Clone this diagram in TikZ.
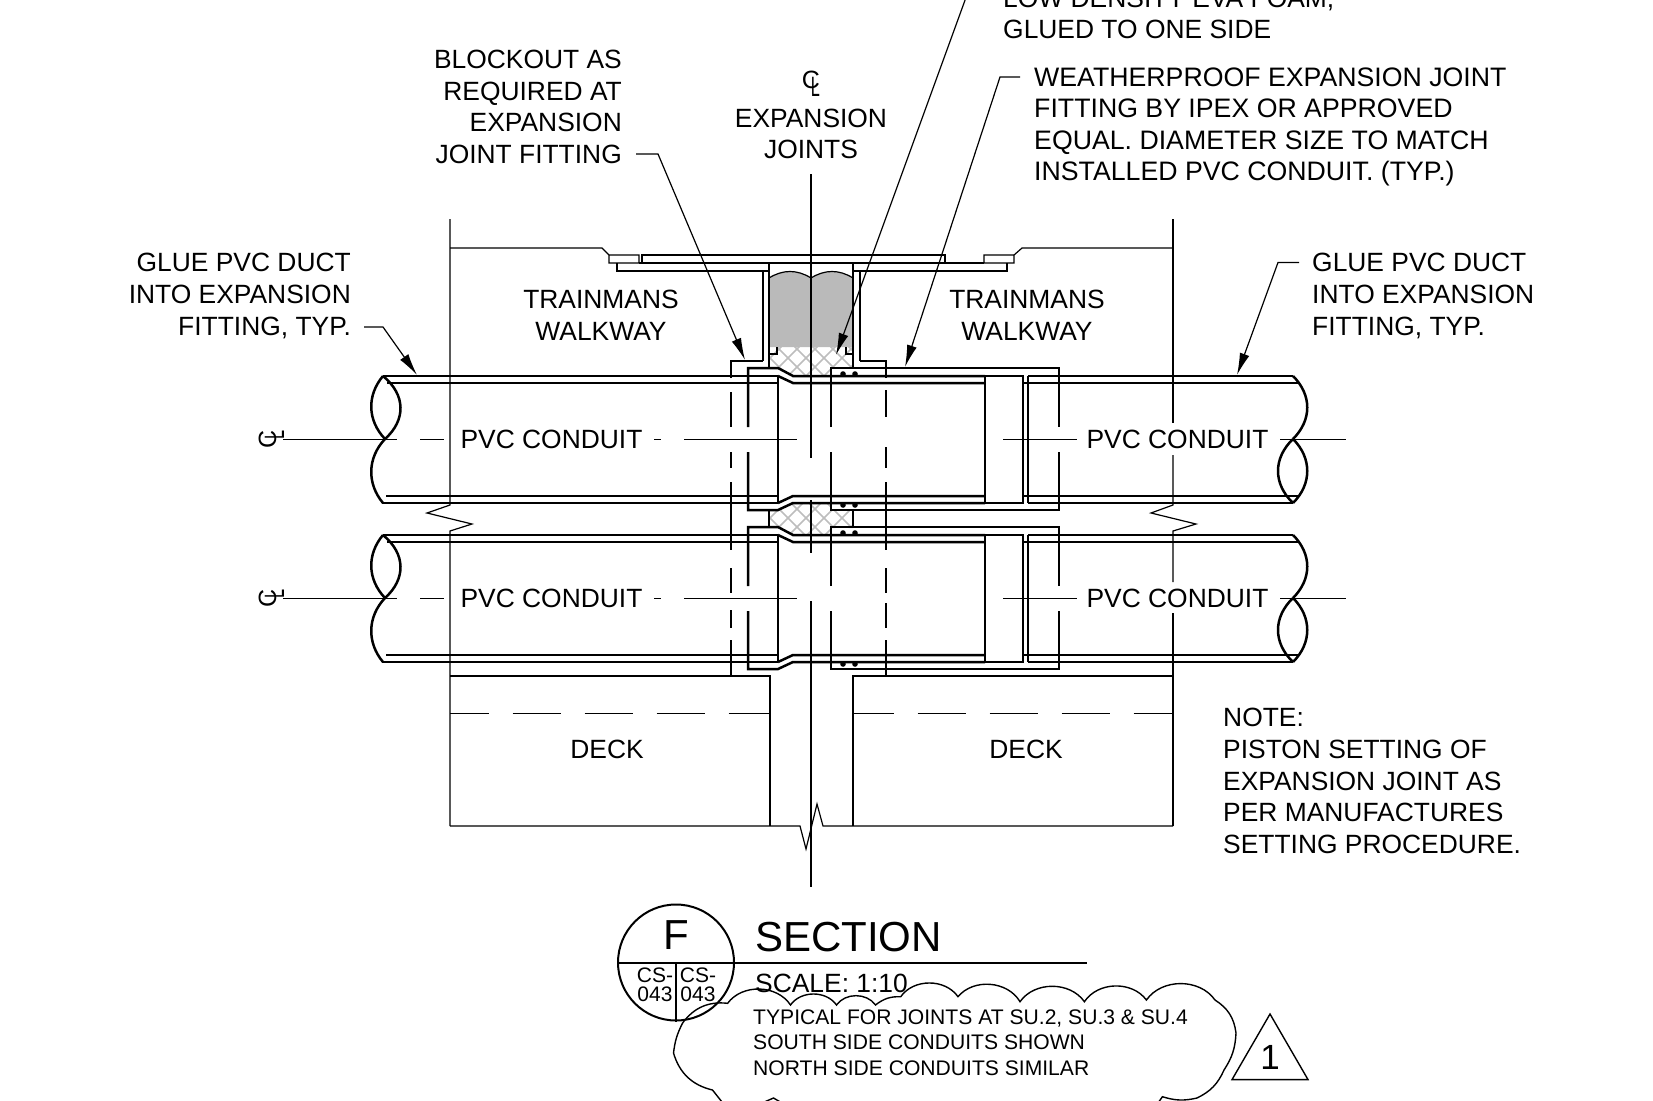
\documentclass[tikz,border=0pt]{standalone}
\usepackage{fontspec}
\setmainfont{Liberation Sans}
\usetikzlibrary{arrows.meta}
\definecolor{backer}{gray}{0.73}
\definecolor{foamline}{gray}{0.74}
\tikzstyle{callout} = [inner sep=0pt, font=\fontsize{26.4}{31.6}\selectfont]
\tikzstyle{smalltext} = [inner sep=0pt, font=\fontsize{21.1}{25.5}\selectfont]
\tikzstyle{tagtext} = [inner sep=0pt, font=\fontsize{21}{19}\selectfont, align=center]
\tikzstyle{titletext} = [inner sep=0pt, font=\fontsize{42}{46}\selectfont]
\tikzstyle{heavy} = [line width=2.5pt]
\tikzstyle{light} = [line width=1.2pt]
\tikzstyle{leader} = [line width=1.2pt, -{Latex[length=22pt,width=10pt]}]
\newcommand{\clmark}{\fontsize{25}{25}\selectfont\makebox[0pt]{C}\makebox[0pt]{\hspace{9pt}\raisebox{-8pt}{\scalebox{0.65}[1.12]{L}}}}
\newcommand{\foamhatch}[2]{%
  \begin{scope}
    \clip #1;
    \foreach \d in {680,698,...,960} {
      \draw[foamline, line width=1.5pt] (\d,#2) -- ++(60,60);
      \draw[foamline, line width=1.5pt] (\d,#2) -- ++(-60,60);
    }
  \end{scope}}

\begin{document}
\begin{tikzpicture}[x=1pt,y=-1pt]
\useasboundingbox (0,0) rectangle (1653,1100);

% foam and backer rod
\foamhatch{(769,347) -- (853,347) -- (853,368) -- (831,368) -- (831,376) -- (793,376) -- (778,368) -- (769,368) -- cycle}{340}
\foamhatch{(769,510) -- (778,510) -- (793,503) -- (831,503) -- (831,510) -- (853,510) -- (853,528) -- (831,528) -- (831,535) -- (793,535) -- (778,528) -- (769,528) -- cycle}{500}
\fill[backer] (769,278) to[bend left=32] (811,278) to[bend left=32] (853,278) -- (853,347) -- (769,347) -- cycle;
\draw[light] (769,278) to[bend left=32] (811,278) to[bend left=32] (853,278);
\draw[light] (777,347) -- (777,354) -- (770,354);
\draw[light] (846,347) -- (846,354) -- (853,354);

% walkway and cover plates
\draw[light] (450,219) -- (450,505) -- (427,513) -- (472,524) -- (450,531) -- (450,826);
\draw[light] (1173,219) -- (1173,423);
\draw[light] (1173,455) -- (1173,505) -- (1151,513) -- (1196,524) -- (1173,531) -- (1173,582);
\draw[light] (1173,613) -- (1173,826);
\draw[light] (450,248) -- (602,248) -- (609,255) -- (639,255) -- (639,263) -- (609,263) -- (609,255);
\draw[light] (1173,248) -- (1022,248) -- (1014,255) -- (984,255) -- (984,263) -- (1014,263) -- (1014,255);
\draw[light] (639,263) -- (642,263);
\draw[light] (945,263) -- (984,263);
\draw[light] (642,255) rectangle (945,263);
\draw[light] (617,263) -- (617,271) -- (769,271) -- (769,263);
\draw[light] (1007,263) -- (1007,271) -- (853,271) -- (853,263);

% channel walls and blockout
\draw[light] (763,271) -- (763,361);
\draw[light] (769,271) -- (769,368);
\draw[light] (853,271) -- (853,368);
\draw[light] (860,271) -- (860,361);
\draw[heavy] (731,378) -- (731,361) -- (763,361);
\draw[heavy] (886,378) -- (886,361) -- (860,361);
\foreach \a/\b in {392/427,452/468,482/550,568/593,610/628,640/676} {
  \draw[heavy] (731,\a) -- (731,\b);
}
\foreach \a/\b in {390/417,447/468,482/550,568/593,603/628,640/676} {
  \draw[heavy] (886,\a) -- (886,\b);
}
\draw[heavy] (769,510) -- (769,528);
\draw[heavy] (853,510) -- (853,528);

% deck
\draw[light] (450,676) -- (770,676) -- (770,826);
\draw[light] (1173,676) -- (853,676) -- (853,826);
\draw[heavy] (886,676) -- (853,676);
\draw[light] (450,826) -- (770,826) -- (800,826) -- (806,849) -- (817,804) -- (823,826) -- (1173,826);
\draw[light, dash pattern=on 48.5pt off 23.5pt, dash phase=9.5pt] (450,713.5) -- (770,713.5);
\draw[light, dash pattern=on 48.5pt off 23.5pt, dash phase=7.5pt] (853,713.5) -- (1173,713.5);

% centre line of joints
\draw[light] (811,174) -- (811,458);
\draw[light] (811,500) -- (811,553);
\draw[light] (811,601) -- (811,887);

% conduits
\foreach \yo in {0,159} {
\begin{scope}[yshift=-\yo pt]
  \draw[heavy] (383,376) -- (778,376);
  \draw[heavy] (387,383) -- (778,383);
  \draw[heavy] (386,496) -- (778,496);
  \draw[heavy] (382,503) -- (778,503);
  \draw[heavy] (778,376) -- (778,503);
  \draw[heavy] (383,376) .. controls (367,395) and (367,420) .. (385,439);
  \draw[heavy] (383,376) .. controls (406,395) and (406,420) .. (385,439);
  \draw[heavy] (385,439) .. controls (367,458) and (367,484) .. (383,503);
  \draw[heavy] (748,427) -- (748,368) -- (778,368) -- (793,376) -- (985,376);
  \draw[heavy] (748,452) -- (748,510) -- (778,510) -- (793,503) -- (985,503);
  \draw[heavy] (778,376) -- (793,383) -- (985,383);
  \draw[heavy] (778,503) -- (793,496) -- (985,496);
  \draw[heavy] (831,427) -- (831,368) -- (1059,368) -- (1059,427);
  \draw[heavy] (831,452) -- (831,510) -- (1059,510) -- (1059,452);
  \draw[heavy] (985,376) -- (985,503);
  \draw[heavy] (985,376) -- (1023,376) -- (1023,503) -- (985,503);
  \draw[heavy] (1028,376) -- (1028,503);
  \draw[heavy] (1023,383) -- (1028,383);
  \draw[heavy] (1023,496) -- (1028,496);
  \draw[heavy] (1028,376) -- (1293,376);
  \draw[heavy] (1028,383) -- (1298,383);
  \draw[heavy] (1028,496) -- (1298,496);
  \draw[heavy] (1028,503) -- (1293,503);
  \draw[heavy] (1293,376) .. controls (1312,395) and (1312,420) .. (1293,439);
  \draw[heavy] (1293,439) .. controls (1312,458) and (1312,484) .. (1293,503);
  \draw[heavy] (1293,439) .. controls (1273,458) and (1273,484) .. (1293,503);
  \fill (843,374) circle (2.8pt);
  \fill (855,374) circle (2.8pt);
  \fill (843,505) circle (2.8pt);
  \fill (855,505) circle (2.8pt);
  \draw[light] (283,439.5) -- (397,439.5);
  \draw[light] (420,439.5) -- (444,439.5);
  \draw[light] (654,439.5) -- (661,439.5);
  \draw[light] (684,439.5) -- (797,439.5);
  \draw[light] (1003,439.5) -- (1077,439.5);
  \draw[light] (1280,439.5) -- (1346,439.5);
  \node[rotate=90] (clmark\yo) at (271.5,439.5) {\clmark};
  \node[callout] (pvcleft\yo) at (551.5,439.5) {PVC CONDUIT};
  \node[callout] (pvcright\yo) at (1177.5,439.5) {PVC CONDUIT};
\end{scope}
}

% labels
\node[callout, anchor=east, align=right] (blockout) at (622,107) {BLOCKOUT AS\\REQUIRED AT\\EXPANSION\\JOINT FITTING};
\node[callout, align=center] (joints) at (811,134) {EXPANSION\\JOINTS};
\node (clmarktop) at (811,84) {\clmark};
\node[callout, anchor=west, align=left] (foam) at (1003,14) {LOW DENSITY EVA FOAM,\\GLUED TO ONE SIDE};
\node[callout, anchor=west, align=left, font=\fontsize{26.7}{31.6}\selectfont] (fitting) at (1034,127) {WEATHERPROOF EXPANSION JOINT\\FITTING BY IPEX OR APPROVED\\EQUAL. DIAMETER SIZE TO MATCH\\INSTALLED PVC CONDUIT. (TYP.)};
\node[callout, anchor=east, align=right] (glueleft) at (351,296) {GLUE PVC DUCT\\INTO EXPANSION\\FITTING, TYP.};
\node[callout, anchor=west, align=left] (glueright) at (1312,296) {GLUE PVC DUCT\\INTO EXPANSION\\FITTING, TYP.};
\node[callout, align=center] (walkleft) at (601,315.5) {TRAINMANS\\WALKWAY};
\node[callout, align=center] (walkright) at (1027,315.5) {TRAINMANS\\WALKWAY};
\node[callout] (deckleft) at (607,749.5) {DECK};
\node[callout] (deckright) at (1026,749.5) {DECK};
\node[callout, anchor=west, align=left] (note) at (1223,781) {NOTE:\\PISTON SETTING OF\\EXPANSION JOINT AS\\PER MANUFACTURES\\SETTING PROCEDURE.};

% leaders
\coordinate (blockouttail) at (636,154);
\coordinate (blockoutbend) at (658,154);
\coordinate (blockouttip) at (745,360);
\coordinate (foamtail) at (968,-8);
\coordinate (foamtip) at (836,355);
\coordinate (fittingtail) at (1020,77);
\coordinate (fittingbend) at (1000,77);
\coordinate (fittingtip) at (905,367);
\coordinate (glueltail) at (364,327);
\coordinate (gluelbend) at (383,327);
\coordinate (glueltip) at (417,375);
\coordinate (gluertail) at (1299,262.5);
\coordinate (gluerbend) at (1278,262.5);
\coordinate (gluertip) at (1237,375);
\draw[leader] (blockouttail) -- (blockoutbend) -- (blockouttip);
\draw[leader] (foamtail) -- (foamtip);
\draw[leader] (fittingtail) -- (fittingbend) -- (fittingtip);
\draw[leader] (glueltail) -- (gluelbend) -- (glueltip);
\draw[leader] (gluertail) -- (gluerbend) -- (gluertip);

% section title
\node[draw, circle, line width=2pt, minimum size=116pt, inner sep=0pt] (bubble) at (676,962.5) {};
\node[titletext] (bubbleletter) at (676,935) {F};
\draw[line width=2pt] (bubble.west) -- (1087,962.5);
\draw[line width=2pt] (bubble.center) -- (bubble.south);
\node[tagtext] (sheetleft) at (655,985) {CS-\\043};
\node[tagtext] (sheetright) at (698,985) {CS-\\043};
\node[titletext, anchor=west] (sectiontitle) at (755,937) {SECTION};
\node[callout, anchor=west] (scale) at (755,983.5) {SCALE: 1:10};
\node[smalltext, anchor=west, align=left] (revnote) at (753,1042.5) {TYPICAL FOR JOINTS AT SU.2, SU.3 \& SU.4\\SOUTH SIDE CONDUITS SHOWN\\NORTH SIDE CONDUITS SIMILAR};

% revision cloud
\draw[line width=1.4pt] (722,1102) -- (712.5,1090) to[bend left=30] (673.5,1053) to[bend left=10] (682.6,1023) to[bend left=30] (727.6,1003.3)
  to[bend left=55] (790.5,1005) to[bend left=55] (836.5,1005) to[bend left=55] (875.5,1005) to[bend left=20] (900.7,996.7)
  to[bend left=55] (958,996.7) to[bend left=55] (1020,1001.7) to[bend left=55] (1084.4,1001.7) to[bend left=55] (1146.4,1000)
  to[bend left=55] (1215,1000) to[bend left=25] (1236,1033) to[bend left=15] (1224,1070) to[bend left=20] (1197,1098)
  to[bend left=15] (1162.4,1096.7) -- (1158,1103);
\draw[line width=1.4pt] (762,1103) -- (773.5,1098) -- (782,1103);
\draw[line width=1.4pt] (1270,1014) -- (1232,1079.6) -- (1308,1079.6) -- cycle;
\node[inner sep=0pt, font=\fontsize{35}{35}\selectfont] (revnumber) at (1270,1057) {1};
\end{tikzpicture}
\end{document}
